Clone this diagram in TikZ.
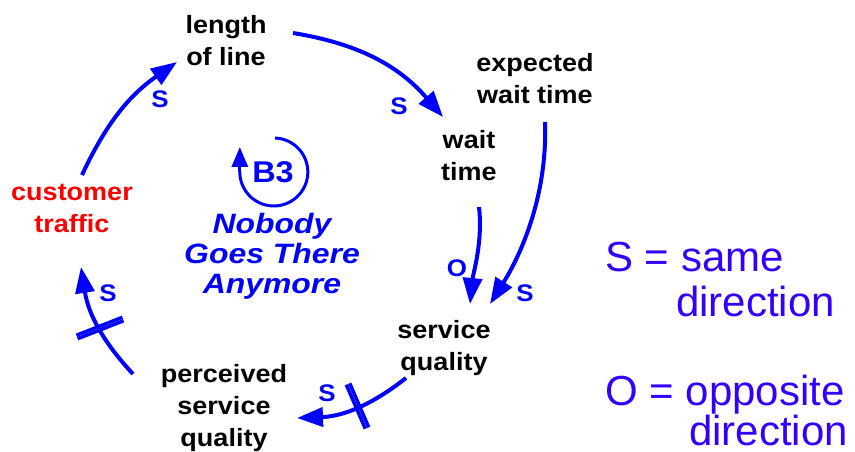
\documentclass[tikz,border=0pt]{standalone}
\usepackage{fontspec}
\setmainfont{Liberation Sans}
\newfontfamily\widesans[FakeStretch=1.08]{Liberation Sans}
\newfontfamily\widersans[FakeStretch=1.14]{Liberation Sans}
\usetikzlibrary{arrows.meta,calc}
\definecolor{legblue}{RGB}{51,0,255}
\begin{document}
\begin{tikzpicture}[x=1pt,y=-1pt,
  var/.style={font=\widesans\bfseries\fontsize{25}{32}\selectfont, align=center, inner sep=0pt},
  link/.style={draw=blue, line width=4pt, -{Triangle[length=26pt,width=19pt]}},
  pol/.style={text=blue, font=\widesans\bfseries\fontsize{24}{26}\selectfont, inner sep=0pt},
  delaybar/.style={draw=blue, line width=3.5pt},
  legend/.style={text=legblue, font=\fontsize{42}{45}\selectfont, inner sep=0pt, anchor=base west}]
\useasboundingbox (0,0) rectangle (855,451);
% variables
\node[var] (ll) at (226,41) {length\\of line};
\node[var] (ewt) at (535,79) {expected\\wait time};
\node[var] (wt) at (469,156) {wait\\time};
\node[var] (sq) at (444,348) {service\\quality};
\node[var] (psq) at (224,408) {perceived\\service\\quality};
\node[var, text=red] (ct) at (72,208) {customer\\traffic};
% loop marker
\node[text=blue, font=\widesans\bfseries\fontsize{30}{30}\selectfont, inner sep=0pt] (b3) at (273,172) {B3};
\draw[blue, line width=3pt] ($(b3)+(2,-34)$) arc[start angle=-88, end angle=180, radius=34] coordinate (b3end);
\draw[blue, line width=3pt, -{Triangle[length=20pt,width=16pt]}] (b3end) -- ++(0,-25);
\node[text=blue, font=\widersans\bfseries\itshape\fontsize{28}{30}\selectfont, align=center, inner sep=0pt] (title) at (272,256) {Nobody\\Goes There\\Anymore};
% links
\draw[link] ($(ct)+(10,-33)$) to[bend left=15] ($(ll)+(-49,21)$);
\draw[link] ($(ll)+(67,-8)$) to[bend left=20] ($(wt)+(-26,-39)$);
\draw[link] ($(wt)+(10,51)$) .. controls +(4,35) and +(3,-30) .. ($(sq)+(26,-44)$);
\draw[link] ($(ewt)+(10,43)$) .. controls +(3,85) and +(22,-35) .. ($(sq)+(46,-44)$);
\draw[link] ($(sq)+(-38,30)$) to[bend left=18] ($(psq)+(73,10)$);
\draw[link] ($(psq)+(-91,-34)$) to[bend left=17] ($(ct)+(9,59)$);
% polarity labels
\node[pol] (p1) at (160,99) {S};
\node[pol] (p2) at (399,106) {S};
\node[pol] (p3) at (457,268) {O};
\node[pol] (p4) at (525,293) {S};
\node[pol] (p5) at (327,393) {S};
\node[pol] (p6) at (108,293) {S};
% delay marks
\draw[delaybar] (349.7,383.3) -- (368.7,427.3);
\draw[delaybar] (346.3,384.7) -- (365.3,428.7);
\draw[delaybar] (77.6,338.7) -- (123.6,320.7);
\draw[delaybar] (76.4,335.3) -- (122.4,317.3);
% legend
\node[legend] (l1) at (605,271) {S = same};
\node[legend] (l2) at (676,316) {direction};
\node[legend] (l3) at (605,405) {O = opposite};
\node[legend] (l4) at (689,445) {direction};
\end{tikzpicture}
\end{document}
